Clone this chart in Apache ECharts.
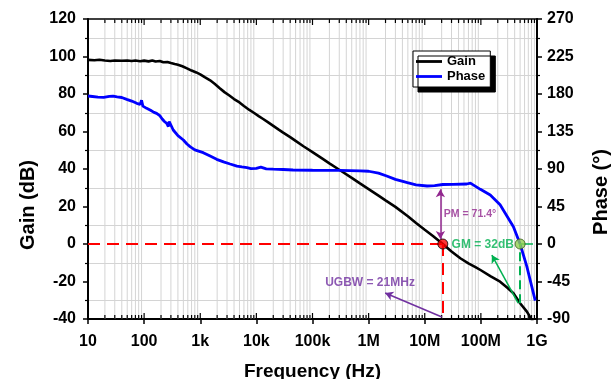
<!DOCTYPE html>
<html><head><meta charset="utf-8">
<script src="https://cdn.jsdelivr.net/npm/echarts@6/dist/echarts.min.js"></script>
<style>html,body{margin:0;padding:0;background:#fff}#c{width:611px;height:379px}</style>
</head><body><div id="c"></div>
<script>
// ---- data ----
const gainFreq = [10,13,16,20,25,30,40,50,60,70,85,100,120,140,160,190,220,260,300,350,400,480,580,700,850,
  1000,1200,1500,1800,2200,2700,3300,4000,5000,6000,7500,9000,11000,13000,16000,20000,25000,30000,40000,50000,70000,
  1e5,1.5e5,2e5,3e5,5e5,7e5,1e6,1.5e6,2e6,3e6,5e6,7e6,1e7,1.4e7,2.1e7,3e7,4.3e7,6e7,8e7,1e8,1.5e8,2.2e8,3e8,3.8e8,5e8,6.6e8,8.1e8,9e8];
const gainDb = [98.2,98.0,98.3,97.9,97.6,97.9,97.7,97.9,97.6,97.9,97.5,97.8,97.4,97.9,97.3,97.6,96.9,97.1,96.5,96.0,95.6,94.8,93.7,92.5,91.5,
  90.5,89.0,87.3,85.5,83.2,81.0,79.2,77.3,75.5,73.6,71.5,70.0,68.2,66.8,65.0,63.0,61.0,59.4,57.0,55.0,52.0,
  49.0,45.5,43.0,39.6,35.3,32.3,29.3,25.8,23.3,19.8,14.8,11.2,7.6,4.3,0,-4.0,-7.6,-10.3,-12.3,-14.0,-17.3,-20.1,-23.5,-26.3,-31.6,-36.1,-40.5,-43];

const phaseFreq = [10,12,15,19,24,28,33,40,49,60,74,85,90,95,100,111,130,150,167,190,210,230,253,270,280,330,400,500,580,658,800,
  1130,1500,1960,2600,3400,4500,5500,6800,8000,10000,12000,15000,20000,30000,45000,1e5,3e5,7e5,
  1e6,1.5e6,2.1e6,3e6,4.9e6,7e6,1.1e7,1.5e7,2.1e7,3.2e7,5.6e7,6.5e7,7e7,9.8e7,1.47e8,2.2e8,3.8e8,5e8,6.6e8,9.3e8];
const phaseDeg = [177.6,177.0,176.2,176.0,177.2,177.5,176.6,175.8,173.6,171.5,168.8,167.5,172.5,165.5,167.0,162.8,160.5,158.0,156.8,154.0,150.0,147.0,144.8,141.0,147.0,136.8,130.0,124.8,120.0,116.8,113.0,
  109.6,105.5,101.6,98.5,96.0,93.5,92.5,91.6,90.5,90.8,92.3,90.2,89.8,89.4,88.8,88.5,88.3,87.8,
  87.3,85.0,81.6,77.5,73.6,71.0,69.6,70.0,71.4,71.6,72.0,73.0,71.5,65.6,58.8,47.0,20.8,0,-27.2,-68];

const freqTickLabels = ['10','100','1k','10k','100k','1M','10M','100M','1G'];
const gainRange = [-40, 120, 20];
const phaseRange = [-90, 270, 45];

const ugbwFreq = 21e6;      // unity gain frequency
const gmFreq = 5e8;         // phase crossover
const gmGain = -31.6;
const pmText = 'PM = 71.4°';
const ugbwText = 'UGBW = 21MHz';
const gmText = 'GM = 32dB';

// axis structure: minor (2..9) and major decade positions
const tickMarks = [];
for (let e = 1; e <= 9; e++) {
  tickMarks.push([Math.pow(10, e), 1]);
  if (e < 9) for (let m = 2; m <= 9; m++) tickMarks.push([m * Math.pow(10, e), 0]);
}

const FONT = "'Liberation Sans', Arial, sans-serif";
const zip = (a, b) => a.map((v, i) => [v, b[i]]);
const LEGEND_LINE = 'path://M0,0 M0,4.6 L26,4.6 L26,7.4 L0,7.4 Z M26,12';

function renderGridTicks(params, api) {
  const f = api.value(0), major = api.value(1) === 1;
  const top = api.coord([f, gainRange[1]]);
  const bot = api.coord([f, gainRange[0]]);
  const children = [];
  if (!major) children.push({type: 'line', shape: {x1: top[0], y1: top[1], x2: bot[0], y2: bot[1]}, style: {stroke: '#d4d4d4', lineWidth: 1}});
  const len = major ? 6 : 4;
  children.push({type: 'line', shape: {x1: bot[0], y1: bot[1], x2: bot[0], y2: bot[1] - len}, style: {stroke: '#000', lineWidth: 1.2}});
  children.push({type: 'line', shape: {x1: top[0], y1: top[1], x2: top[0], y2: top[1] + len}, style: {stroke: '#000', lineWidth: 1.2}});
  return {type: 'group', children};
}

const yAxisCommon = {
  type: 'value',
  axisLine: {show: true, lineStyle: {color: '#000', width: 2}},
  axisTick: {show: true, inside: false, length: 5, lineStyle: {color: '#000', width: 1.5}},
  minorTick: {show: true, splitNumber: 2, length: 3, lineStyle: {color: '#000', width: 1.2}},
  splitLine: {show: false},
  axisLabel: {color: '#000', fontFamily: FONT, fontWeight: 'bold', fontSize: 16},
  nameLocation: 'middle', nameRotate: 90,
  nameTextStyle: {color: '#000', fontFamily: FONT, fontWeight: 'bold', fontSize: 20}
};

const chart = echarts.init(document.getElementById('c'), null, {renderer: 'canvas'});
chart.setOption({
  animation: false,
  backgroundColor: '#fff',
  grid: {left: 88, right: 74, top: 19, bottom: 60, containLabel: false, outerBoundsMode: 'none'},
  legend: {
    data: [{name: 'Gain', icon: LEGEND_LINE}, {name: 'Phase', icon: LEGEND_LINE}],
    orient: 'vertical', left: 413, top: 51,
    itemWidth: 26, itemHeight: 12, itemGap: 2, padding: [4, 5, 4, 3],
    backgroundColor: '#fff', borderColor: '#000', borderWidth: 1,
    shadowColor: '#000', shadowBlur: 0, shadowOffsetX: 5, shadowOffsetY: 5,
    textStyle: {color: '#000', fontFamily: FONT, fontWeight: 'bold', fontSize: 13}
  },
  xAxis: [{
    type: 'log', logBase: 10, min: 10, max: 1e9, splitNumber: 8, position: 'bottom',
    axisLine: {show: true, onZero: false, lineStyle: {color: '#000', width: 2}},
    axisTick: {show: true, inside: false, length: 5, lineStyle: {color: '#000', width: 1.5}},
    splitLine: {show: false},
    axisLabel: {color: '#000', fontFamily: FONT, fontWeight: 'bold', fontSize: 16, margin: 15,
      formatter: v => freqTickLabels[Math.round(Math.log10(v)) - 1]},
    name: 'Frequency (Hz)', nameLocation: 'middle', nameGap: 43,
    nameTextStyle: {color: '#000', fontFamily: FONT, fontWeight: 'bold', fontSize: 19}
  }, {
    type: 'log', logBase: 10, min: 10, max: 1e9, splitNumber: 8, position: 'top',
    axisLine: {show: true, onZero: false, lineStyle: {color: '#000', width: 1.5}},
    axisTick: {show: false}, axisLabel: {show: false}, splitLine: {show: false}
  }],
  yAxis: [Object.assign({}, yAxisCommon, {
    min: gainRange[0], max: gainRange[1], interval: gainRange[2], position: 'left',
    minorSplitLine: {show: true, lineStyle: {color: '#d4d4d4', width: 1}},
    axisLabel: Object.assign({}, yAxisCommon.axisLabel, {margin: 12}),
    name: 'Gain (dB)', nameGap: 48,
    nameTextStyle: Object.assign({}, yAxisCommon.nameTextStyle, {padding: [0, 72, 0, 0]})
  }), Object.assign({}, yAxisCommon, {
    min: phaseRange[0], max: phaseRange[1], interval: phaseRange[2], position: 'right',
    axisLabel: Object.assign({}, yAxisCommon.axisLabel, {margin: 10}),
    name: 'Phase (°)', nameGap: 54,
    nameTextStyle: Object.assign({}, yAxisCommon.nameTextStyle, {padding: [0, 46, 0, 0]})
  })],
  series: [
    {type: 'custom', name: 'grid', coordinateSystem: 'cartesian2d', xAxisIndex: 0, yAxisIndex: 0,
      renderItem: renderGridTicks, data: tickMarks, z: 1, silent: true},
    {type: 'line', name: 'Gain', xAxisIndex: 0, yAxisIndex: 0, data: zip(gainFreq, gainDb),
      symbol: 'none', color: '#000', lineStyle: {color: '#000', width: 2.6}, z: 3},
    {type: 'line', name: 'Phase', xAxisIndex: 0, yAxisIndex: 1, data: zip(phaseFreq, phaseDeg),
      symbol: 'none', color: '#0000ff', lineStyle: {color: '#0000ff', width: 2.8}, z: 3},
    // red dashed UGBW guides
    {type: 'line', name: 'ugbwGuide', data: [], xAxisIndex: 0, yAxisIndex: 0, z: 4,
      markLine: {silent: true, symbol: 'none', label: {show: false},
        lineStyle: {color: '#ff0000', width: 2, type: [12, 7]},
        data: [[{coord: [10, 0]}, {coord: [ugbwFreq, 0]}], [{coord: [ugbwFreq, 0]}, {coord: [ugbwFreq, gainRange[0]]}]]}},
    // PM double arrow
    {type: 'line', name: 'pmArrow', data: [], xAxisIndex: 0, yAxisIndex: 0, z: 4,
      markLine: {silent: true, symbol: ['arrow', 'arrow'], symbolSize: [7, 8], label: {show: false},
        lineStyle: {color: '#92278f', width: 1.5, type: 'solid'},
        data: [[{coord: [19e6, 2.7]}, {coord: [19e6, 29.2]}]]}},
    // UGBW arrow
    {type: 'line', name: 'ugbwArrow', data: [], xAxisIndex: 0, yAxisIndex: 0, z: 4,
      markLine: {silent: true, symbol: ['none', 'arrow'], symbolSize: [7, 8], label: {show: false},
        lineStyle: {color: '#7030a0', width: 1.5, type: 'solid'},
        data: [[{coord: [20.2e6, -38.9]}, {coord: [1.97e6, -26.1]}]]}},
    // GM arrow and guides
    {type: 'line', name: 'gmArrow', data: [], xAxisIndex: 0, yAxisIndex: 0, z: 4,
      markLine: {silent: true, symbol: ['none', 'arrow'], symbolSize: [7, 8], label: {show: false},
        lineStyle: {color: '#00b050', width: 1.5, type: 'solid'},
        data: [[{coord: [4.62e8, -31.5]}, {coord: [1.57e8, -5.9]}]]}},
    {type: 'line', name: 'gmGuide', data: [], xAxisIndex: 0, yAxisIndex: 0, z: 4,
      markLine: {silent: true, symbol: 'none', label: {show: false},
        lineStyle: {color: '#00b050', width: 2, type: [9, 5]},
        data: [[{coord: [gmFreq, gmGain]}, {coord: [gmFreq, 0]}]]}},
    {type: 'line', name: 'gmLine', data: [], xAxisIndex: 0, yAxisIndex: 0, z: 4,
      markLine: {silent: true, symbol: 'none', label: {show: false},
        lineStyle: {color: '#00b050', width: 1.5, type: 'solid'},
        data: [[{coord: [gmFreq, 0]}, {coord: [8.5e8, 0]}]]}},
    // dots
    {type: 'scatter', name: 'ugbwDot', xAxisIndex: 0, yAxisIndex: 0, z: 5, silent: true,
      data: [[ugbwFreq, 0]], symbolSize: 10, itemStyle: {color: '#ff0000', borderColor: '#000', borderWidth: 1}},
    {type: 'scatter', name: 'gmDot', xAxisIndex: 0, yAxisIndex: 1, z: 5, silent: true,
      data: [[gmFreq, 0]], symbolSize: 10, itemStyle: {color: '#92d050', borderColor: '#3a5a1a', borderWidth: 1}},
    // annotation texts
    {type: 'scatter', name: 'notes', xAxisIndex: 0, yAxisIndex: 0, z: 6, silent: true, symbolSize: 0,
      data: [
        {value: [ugbwFreq, 16], label: {show: true, position: 'right', distance: 1, formatter: pmText, color: '#92278f', fontSize: 10.5, fontWeight: 'bold', fontFamily: FONT}},
        {value: [1.06e6, -20.8], label: {show: true, position: 'inside', formatter: ugbwText, color: '#7030a0', fontSize: 12, fontWeight: 'bold', fontFamily: FONT}},
        {value: [1.08e8, -0.5], label: {show: true, position: 'inside', formatter: gmText, color: '#00b050', fontSize: 12, fontWeight: 'bold', fontFamily: FONT}}
      ]}
  ]
});
</script></body></html>
